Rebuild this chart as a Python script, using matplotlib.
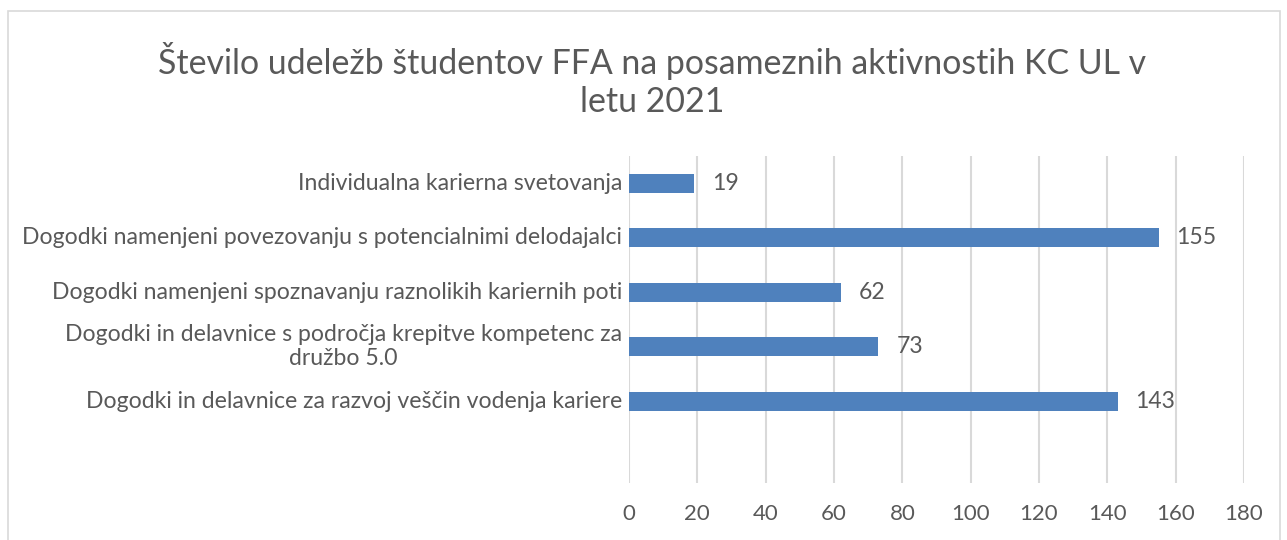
import matplotlib.pyplot as plt
import matplotlib.transforms as mtransforms
from matplotlib.patches import Rectangle

# --- Data ---
categories = [
    "Individualna karierna svetovanja",
    "Dogodki namenjeni povezovanju s potencialnimi delodajalci",
    "Dogodki namenjeni spoznavanju raznolikih kariernih poti",
    "Dogodki in delavnice s področja krepitve kompetenc za\ndružbo 5.0",
    "Dogodki in delavnice za razvoj veščin vodenja kariere",
]
values = [19, 155, 62, 73, 143]
x_ticks = [0, 20, 40, 60, 80, 100, 120, 140, 160, 180]
title = "Število udeležb študentov FFA na posameznih aktivnostih KC UL v\nletu 2021"

bar_color = "#4F81BD"
text_color = "#595959"
grid_color = "#D9D9D9"
font = ["Lato", "DejaVu Sans"]

fig = plt.figure(figsize=(12.87, 5.4), dpi=100)
ax = fig.add_axes([629 / 1287, 1 - 483 / 540, (1244 - 629) / 1287, (483 - 156) / 540])

# chart border
fig.patches.append(Rectangle((8 / 1287, -0.05), (1280 - 8) / 1287, 1.05 - 11 / 540,
                             transform=fig.transFigure, fill=False,
                             edgecolor=grid_color, linewidth=1.2))

pos = list(range(len(categories)))
ax.barh(pos, values, height=0.35, color=bar_color, zorder=3)
ax.set_ylim(5.5, -0.5)
ax.set_xlim(0, 180)
ax.set_xticks(x_ticks)
ax.set_yticks(pos)
ax.set_yticklabels([])
ax.set_xticklabels([str(t) for t in x_ticks], family=font, fontsize=16, color=text_color)
ax.tick_params(axis="both", length=0)
ax.tick_params(axis="x", pad=15)
ax.grid(axis="x", color=grid_color, linewidth=1.5, zorder=0)
for s in ax.spines.values():
    s.set_visible(False)

# category labels (centred lines when wrapped)
trans = mtransforms.blended_transform_factory(ax.transAxes, ax.transData)
trans = trans + mtransforms.ScaledTranslation(-7 / 100, 0, fig.dpi_scale_trans)
for p, c in zip(pos, categories):
    ax.text(0, p, c, transform=trans, ha="right", va="center", multialignment="center",
            family=font, fontsize=16.6, color=text_color)

for p, v in zip(pos, values):
    ax.annotate(str(v), (v, p), xytext=(18, 0), textcoords="offset pixels",
                va="center", ha="left", family=font, fontsize=16.6, color=text_color)

fig.text(652 / 1287, 1 - 80 / 540, title, ha="center", va="center", family=font,
         fontsize=24.4, color=text_color, linespacing=1.22)

fig.savefig("out.png", dpi=100)
